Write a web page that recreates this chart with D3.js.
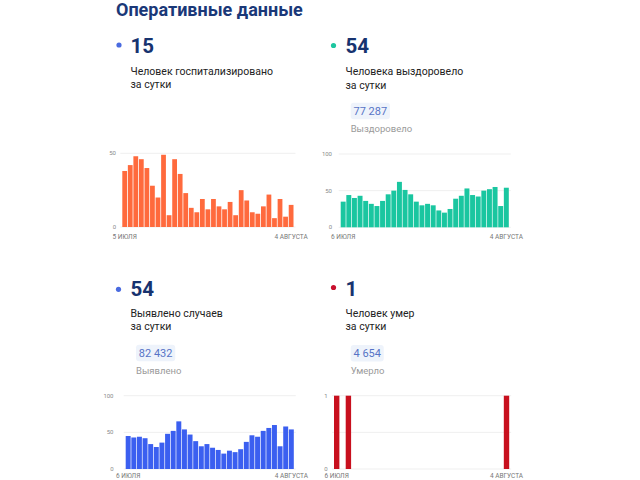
<!DOCTYPE html>
<html><head><meta charset="utf-8">
<script src="https://cdn.jsdelivr.net/npm/d3@7"></script>
<style>html,body{margin:0;padding:0;background:#fff;}svg{display:block;font-family:Roboto,"Noto Sans",sans-serif;}</style>
</head><body><svg id="c" width="640" height="480"></svg>
<script>
// ---- data ----
const title = "Оперативные данные";
const datesJuly5 = d3.range(5, 32).map(d => d + " июля").concat(d3.range(1, 5).map(d => d + " августа"));
const datesJuly6 = datesJuly5.slice(1);
const hospitalized = [38,42,48,46,40,28,20,49,8,46,36,23,13,10,19,12,19,14,12,17,8,25,18,10,9,14,22,6,19,7,15];
const recovered = [35,44,40,43,36,32,29,36,45,50,62,51,45,35,30,32,30,23,20,25,39,43,53,44,42,50,52,55,29,54];
const detected = [45,43,44,42,34,30,36,48,52,65,54,47,38,31,34,29,26,21,25,23,27,37,46,44,52,56,60,31,58,54];
const deaths = [1,0,1,0,0,0,0,0,0,0,0,0,0,0,0,0,0,0,0,0,0,0,0,0,0,0,0,0,0,1];
const headlineValues = ["15", "54", "54", "1"];
const headlineLabels = [["Человек госпитализировано","за сутки"],["Человека выздоровело","за сутки"],["Выявлено случаев","за сутки"],["Человек умер","за сутки"]];
const totals = [null, "77 287", "82 432", "4 654"];
const totalLabels = [null, "Выздоровело", "Выявлено", "Умерло"];
const xTickLabels1 = ["5 ИЮЛЯ", "4 АВГУСТА"];
const xTickLabels2 = ["6 ИЮЛЯ", "4 АВГУСТА"];
const yTicks1 = [0, 50];
const yTicks2 = [0, 50, 100];
const yTicks4 = [0, 0.5, 1];

const svg = d3.select("#c");
svg.append("text").attr("x", 116).attr("y", 16).attr("font-size", 18).attr("font-weight", 700)
  .attr("fill", "#1a3878").text(title);

const cards = [
  {cx:130.5, dotx:119, doty:45, numY:52.7, labY:74.5, boxX:null, boxY:null, dot:"#4a6be0"},
  {cx:345.5, dotx:333.5, doty:45.5, numY:52.7, labY:75, boxX:350.7, boxY:102.7, dot:"#1dc6a0"},
  {cx:130.5, dotx:118.5, doty:289.3, numY:296, labY:316.7, boxX:136, boxY:344.7, dot:"#4a6be0"},
  {cx:345.5, dotx:333.5, doty:287.5, numY:295.7, labY:316.7, boxX:350.7, boxY:345, dot:"#c8102e"}
];
cards.forEach((c, i) => {
  const g = svg.append("g");
  g.append("circle").attr("cx", c.dotx).attr("cy", c.doty).attr("r", 2.6).attr("fill", c.dot);
  g.append("text").attr("x", c.cx).attr("y", c.numY).attr("font-size", 20.5).attr("font-weight", 700)
    .attr("fill", "#17336f").text(headlineValues[i]);
  headlineLabels[i].forEach((t, k) => {
    g.append("text").attr("x", c.cx).attr("y", c.labY + k * 13.7).attr("font-size", 10.5)
      .attr("fill", "#222").text(t);
  });
  if (totals[i]) {
    const rect = g.append("rect").attr("x", c.boxX).attr("y", c.boxY).attr("height", 16.5).attr("rx", 3).attr("fill", "#eef3fb");
    const t = g.append("text").attr("x", c.boxX + 2.8).attr("y", c.boxY + 12).attr("font-size", 11)
      .attr("fill", "#5773c6").text(totals[i]);
    rect.attr("width", t.node().getComputedTextLength() + 5.6);
    g.append("text").attr("x", c.boxX).attr("y", c.boxY + 29.2).attr("font-size", 9.5)
      .attr("fill", "#9a9a9a").text(totalLabels[i]);
  }
});

function barChart(opt) {
  const g = svg.append("g");
  const x = d3.scaleBand().domain(opt.cats).range([opt.x0, opt.x1]).paddingInner(opt.pad).paddingOuter(0);
  const y = d3.scaleLinear().domain([0, opt.max]).range([opt.y0, opt.y1]);
  g.selectAll("line.grid").data(opt.ticks).join("line")
    .attr("x1", opt.x0 - 2).attr("x2", opt.x1 + 2)
    .attr("y1", d => y(d)).attr("y2", d => y(d))
    .attr("stroke", "#efefef").attr("stroke-width", 1);
  g.selectAll("text.yl").data(opt.ticks.filter(d => opt.labelTicks.includes(d))).join("text")
    .attr("x", opt.labelX).attr("y", d => y(d)).attr("dy", "0.35em")
    .attr("text-anchor", "end").attr("font-size", 6).attr("fill", "#8a8a8a").text(d => d);
  g.selectAll("rect").data(opt.values).join("rect")
    .attr("x", (d, i) => x(opt.cats[i])).attr("width", x.bandwidth())
    .attr("y", d => y(d)).attr("height", d => y(0) - y(d)).attr("fill", opt.color);
  const first = opt.cats[0], last = opt.cats[opt.cats.length - 1];
  [[first, opt.xlabels[0]], [last, opt.xlabels[1]]].forEach(([c, t]) => {
    g.append("text").attr("x", x(c) + x.bandwidth() / 2).attr("y", Math.min(opt.y0 + 11.5, 478))
      .attr("text-anchor", "middle").attr("font-size", 6.5).attr("fill", "#777").text(t);
  });
}

barChart({cats: datesJuly5, values: hospitalized, x0: 122.3, x1: 293.5, pad: 0.14, max: 50, y0: 227, y1: 153.3,
  ticks: yTicks1, labelTicks: yTicks1, labelX: 116, color: "#ff6a3d", xlabels: xTickLabels1});
barChart({cats: datesJuly6, values: recovered, x0: 340.7, x1: 508.8, pad: 0.12, max: 100, y0: 227.3, y1: 154,
  ticks: yTicks2, labelTicks: yTicks2, labelX: 332, color: "#1ac6a0", xlabels: xTickLabels2});
barChart({cats: datesJuly6, values: detected, x0: 125.7, x1: 293.8, pad: 0.12, max: 100, y0: 469, y1: 395.7,
  ticks: yTicks2, labelTicks: yTicks2, labelX: 113.5, color: "#3b5ff0", xlabels: xTickLabels2});
barChart({cats: datesJuly6, values: deaths, x0: 334, x1: 509.2, pad: 0.08, max: 1, y0: 469, y1: 395.7,
  ticks: yTicks4, labelTicks: [0, 1], labelX: 327.5, color: "#c8101e", xlabels: xTickLabels2});
</script></body></html>
